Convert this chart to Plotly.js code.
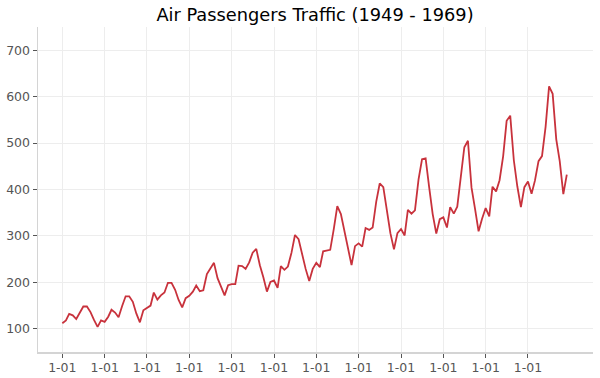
<!DOCTYPE html>
<html>
<head>
<meta charset="utf-8">
<script src="https://cdn.plot.ly/plotly-3.0.1.min.js"></script>
<style>html,body{margin:0;padding:0;background:#fff}#chart{width:600px;height:378px}</style>
</head>
<body>
<div id="chart"></div>
<script>
const years = [1949,1950,1951,1952,1953,1954,1955,1956,1957,1958,1959,1960];
const months = ['01','02','03','04','05','06','07','08','09','10','11','12'];
const passengers = [
  112,118,132,129,121,135,148,148,136,119,104,118,
  115,126,141,135,125,149,170,170,158,133,114,140,
  145,150,178,163,172,178,199,199,184,162,146,166,
  171,180,193,181,183,218,230,242,209,191,172,194,
  196,196,236,235,229,243,264,272,237,211,180,201,
  204,188,235,227,234,264,302,293,259,229,203,229,
  242,233,267,269,270,315,364,347,312,274,237,278,
  284,277,317,313,318,374,413,405,355,306,271,306,
  315,301,356,348,355,422,465,467,404,347,305,336,
  340,318,362,348,363,435,491,505,404,359,310,337,
  360,342,406,396,420,472,548,559,463,407,362,405,
  417,391,419,461,472,535,622,606,508,461,390,432
];
const yTicks = [100,200,300,400,500,600,700];

const dates = [];
years.forEach(y => months.forEach(m => dates.push(y + '-' + m + '-01')));
const xTicks = years.map(y => y + '-01-01');

const trace = {
  x: dates, y: passengers, type: 'scatter', mode: 'lines',
  line: {color: '#c8323c', width: 1.8}, hoverinfo: 'x+y'
};
const axisFont = {family: 'DejaVu Sans, sans-serif', size: 12.5, color: '#555555'};
const layout = {
  width: 600, height: 378,
  margin: {l: 38, r: 7, t: 27, b: 26},
  paper_bgcolor: '#ffffff', plot_bgcolor: '#ffffff',
  title: {text: 'Air Passengers Traffic (1949 - 1969)', x: 0.525, xanchor: 'center', y: 0.978, yanchor: 'top',
    font: {family: 'DejaVu Sans, sans-serif', size: 17.8, color: '#000'}},
  showlegend: false,
  xaxis: {
    type: 'date', range: ['1948-06-05', '1961-07-15'],
    tickmode: 'array', tickvals: xTicks, tickformat: '%-m-%d',
    showgrid: true, gridcolor: '#ededed', gridwidth: 1,
    showline: true, linecolor: '#d4d4d4', linewidth: 1.5,
    ticks: 'outside', ticklen: 4, tickcolor: '#555555', tickfont: axisFont,
    ticklabelstandoff: -1,
    zeroline: false
  },
  yaxis: {
    range: [50, 750], tickmode: 'array', tickvals: yTicks,
    showgrid: true, gridcolor: '#ededed', gridwidth: 1,
    showline: true, linecolor: '#d4d4d4', linewidth: 1.5,
    ticks: 'outside', ticklen: 4, tickcolor: '#555555', tickfont: axisFont,
    zeroline: false
  }
};
Plotly.newPlot('chart', [trace], layout, {displayModeBar: false, staticPlot: true});
</script>
</body>
</html>
